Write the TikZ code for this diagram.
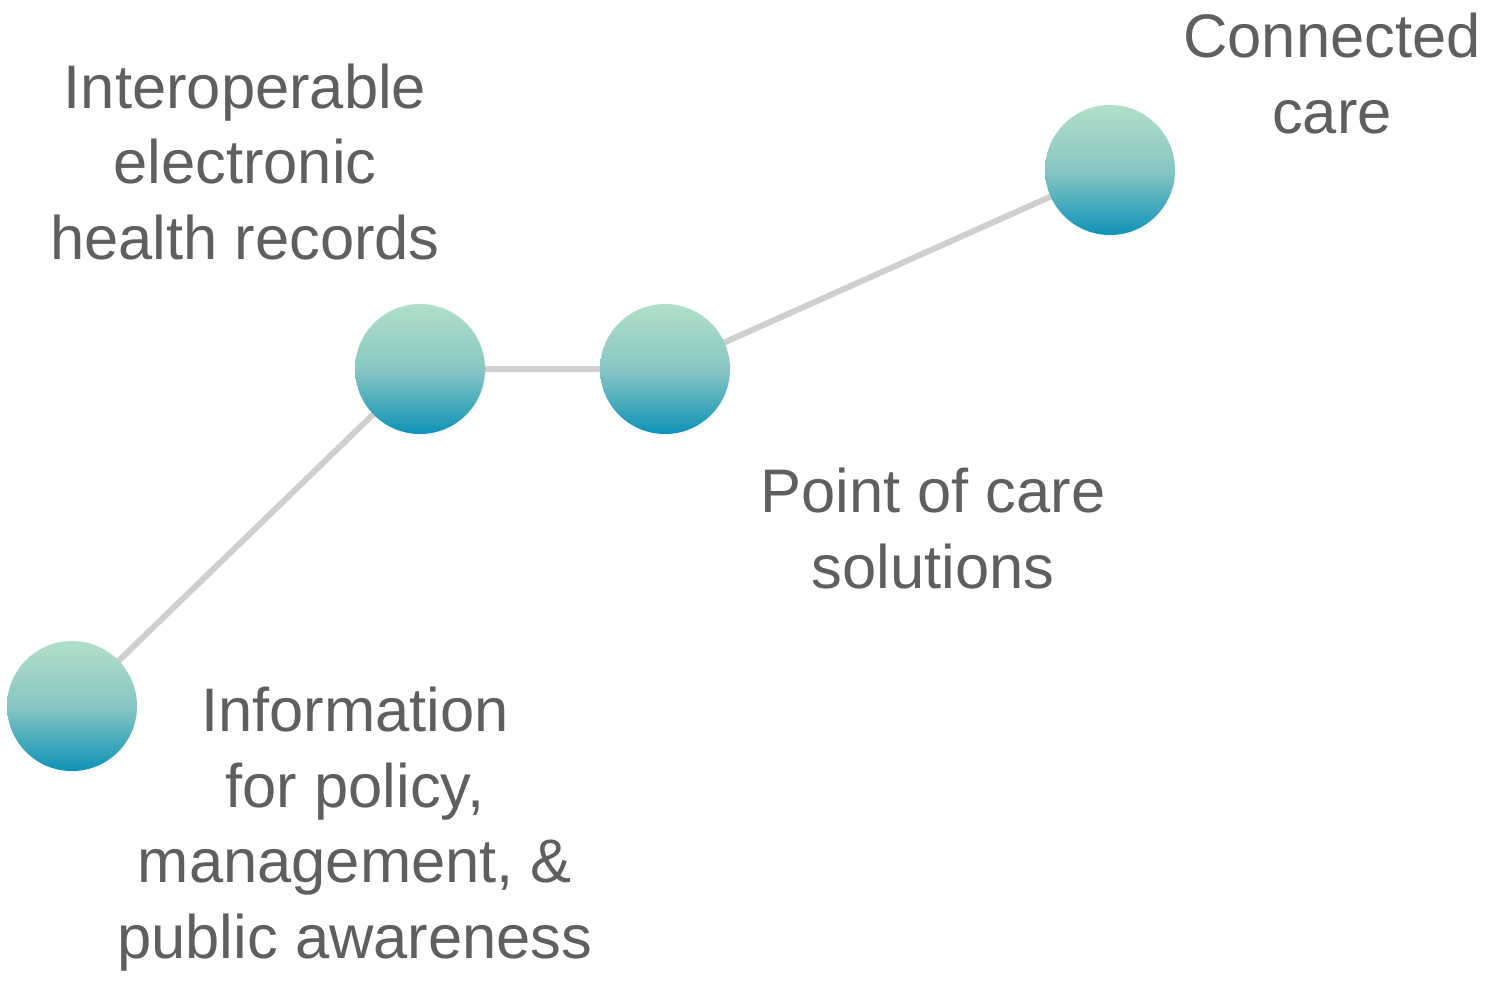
\documentclass[tikz,border=0pt]{standalone}
\usepackage{fontspec}
\setmainfont{Liberation Sans}
\usetikzlibrary{shadows}
\definecolor{txtgray}{HTML}{5F5F5F}
\definecolor{linkgray}{HTML}{CFCFCF}
\definecolor{dottop}{HTML}{B1DFC9}
\definecolor{dotmid}{HTML}{88C6C3}
\definecolor{dotbot}{HTML}{0E92B7}
\tikzset{
  dot/.style={circle, minimum size=130pt, inner sep=0pt, top color=dottop, bottom color=dotbot,
    middle color=dotmid, circular drop shadow={shadow scale=1.0, shadow yshift=-3pt, opacity=0.25}},
  link/.style={line width=6pt, draw=linkgray},
  lbl/.style={align=center, anchor=base, inner sep=0pt, text=txtgray,
    font=\fontsize{61.5}{75.5}\selectfont}
}
\begin{document}
\begin{tikzpicture}[x=1pt, y=-1pt]
\useasboundingbox (0,0) rectangle (1499,980);
\coordinate (A) at (72, 706);
\coordinate (B) at (420, 369);
\coordinate (C) at (665, 369);
\coordinate (D) at (1110, 170);

\draw[link] (A) -- (B) -- (C) -- (D);

\node[dot] (a) at (A) {};
\node[dot] (b) at (B) {};
\node[dot] (c) at (C) {};
\node[dot] (d) at (D) {};

% anchor=base sits on the last line
\node[lbl] (ta) at (355, 958) {Information\\for policy,\\management, \&\\public awareness};
\node[lbl] (tb) at (245, 259) {Interoperable\\electronic\\health records};
\node[lbl] (tc) at (933, 588) {Point of care\\solutions};
\node[lbl] (td) at (1332, 133) {Connected\\care};
\end{tikzpicture}
\end{document}
